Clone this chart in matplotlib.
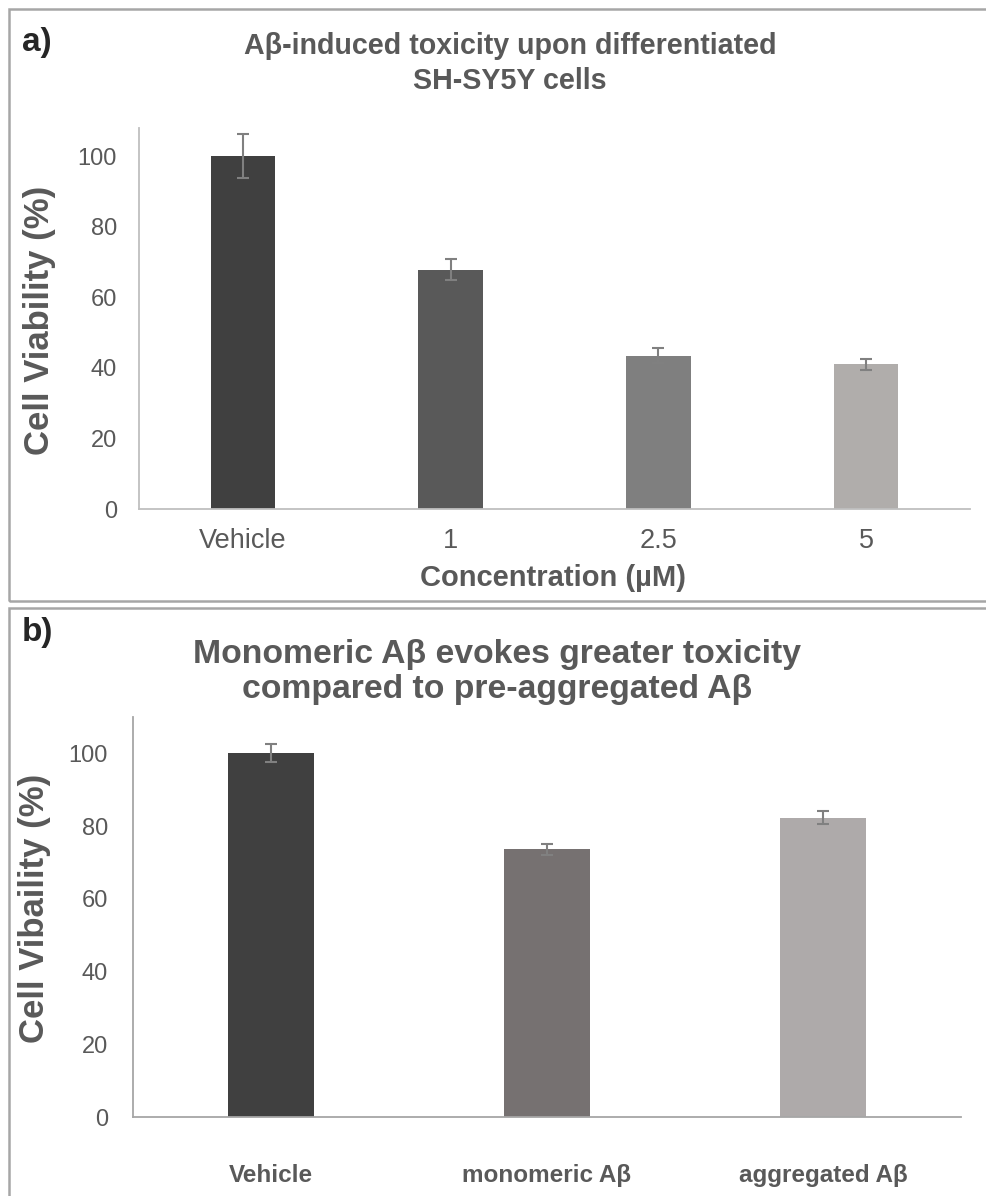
import matplotlib
matplotlib.use("Agg")
import matplotlib.pyplot as plt
from matplotlib.patches import Rectangle

plt.rcParams['font.family'] = ['Liberation Sans', 'DejaVu Sans']

# Panel a: concentration series
conc_labels = ["Vehicle", "1", "2.5", "5"]
conc_viability = [100.0, 67.8, 43.5, 41.0]
conc_error = [6.3, 3.0, 2.0, 1.5]
conc_colors = ["#404040", "#595959", "#7f7f7f", "#b0adab"]

# Panel b: monomeric vs aggregated
form_labels = ["Vehicle", "monomeric Aβ", "aggregated Aβ"]
form_viability = [100.0, 73.6, 82.3]
form_error = [2.5, 1.5, 1.8]
form_colors = ["#404040", "#767171", "#aeaaaa"]

yticks = [0, 20, 40, 60, 80, 100]

W, H = 987, 1196
fig = plt.figure(figsize=(W / 100, H / 100), dpi=100)
fig.patch.set_facecolor("white")

TXT = "#595959"


def fx(px):
    return px / W


def fy(py):
    return 1 - py / H


def box(left, top, right, bottom):
    return [fx(left), fy(bottom), fx(right) - fx(left), fy(top) - fy(bottom)]


def style_axes(ax, spine_color, ymax, tick_pad):
    ax.set_ylim(0, ymax)
    ax.set_yticks(yticks)
    for s in ("top", "right"):
        ax.spines[s].set_visible(False)
    for s in ("left", "bottom"):
        ax.spines[s].set_color(spine_color)
        ax.spines[s].set_linewidth(1.3)
    ax.tick_params(axis="y", length=0, labelsize=17, labelcolor=TXT, pad=tick_pad)
    ax.tick_params(axis="x", length=0, labelcolor=TXT)


# outer frames
for l, t, r, b in [(9, 9, 995, 601), (9, 608, 995, 1205)]:
    fig.add_artist(Rectangle((fx(l), fy(b)), fx(r) - fx(l), fy(t) - fy(b),
                             transform=fig.transFigure, fill=False,
                             edgecolor="#a6a6a6", linewidth=1.8))

# ---- panel a ----
ax1 = fig.add_axes(box(139, 128, 970, 509))
x1 = range(len(conc_labels))
ax1.bar(x1, conc_viability, width=0.31, color=conc_colors,
        yerr=conc_error, capsize=4,
        error_kw=dict(ecolor="#808080", elinewidth=1.5, capthick=1.5))
ax1.set_xlim(-0.5, len(conc_labels) - 0.5)
ax1.set_xticks(list(x1))
ax1.set_xticklabels(conc_labels, fontsize=19.5)
ax1.tick_params(axis="x", pad=14)
style_axes(ax1, "#bfbfbf", 108, 16)

fig.text(fx(22), fy(42), "a)", fontsize=24, fontweight="bold", color="#262626",
         ha="left", va="center")
fig.text(fx(510), fy(63.5), "Aβ-induced toxicity upon differentiated\nSH-SY5Y cells",
         fontsize=20.6, fontweight="bold", color=TXT, ha="center", va="center",
         linespacing=1.32)
fig.text(fx(40), fy(320), "Cell Viability (%)", fontsize=25, fontweight="bold",
         color=TXT, rotation=90, ha="center", va="center")
fig.text(fx(553), fy(578), "Concentration (µM)", fontsize=21, fontweight="bold",
         color=TXT, ha="center", va="center")

# ---- panel b ----
ax2 = fig.add_axes(box(133, 717, 961, 1117))
x2 = range(len(form_labels))
ax2.bar(x2, form_viability, width=0.315, color=form_colors,
        yerr=form_error, capsize=4,
        error_kw=dict(ecolor="#808080", elinewidth=1.5, capthick=1.5))
ax2.set_xlim(-0.5, len(form_labels) - 0.5)
ax2.set_xticks(list(x2))
ax2.set_xticklabels(form_labels, fontsize=17.5, fontweight="bold")
ax2.tick_params(axis="x", pad=34)
style_axes(ax2, "#a6a6a6", 110, 18)

fig.text(fx(22), fy(633), "b)", fontsize=24, fontweight="bold", color="#262626",
         ha="left", va="center")
fig.text(fx(497), fy(672), "Monomeric Aβ evokes greater toxicity\ncompared to pre-aggregated Aβ",
         fontsize=24.3, fontweight="bold", color=TXT, ha="center", va="center",
         linespacing=1.2)
fig.text(fx(35), fy(908), "Cell Vibaility (%)", fontsize=25, fontweight="bold",
         color=TXT, rotation=90, ha="center", va="center")

fig.savefig("out.png", dpi=100, facecolor="white")
